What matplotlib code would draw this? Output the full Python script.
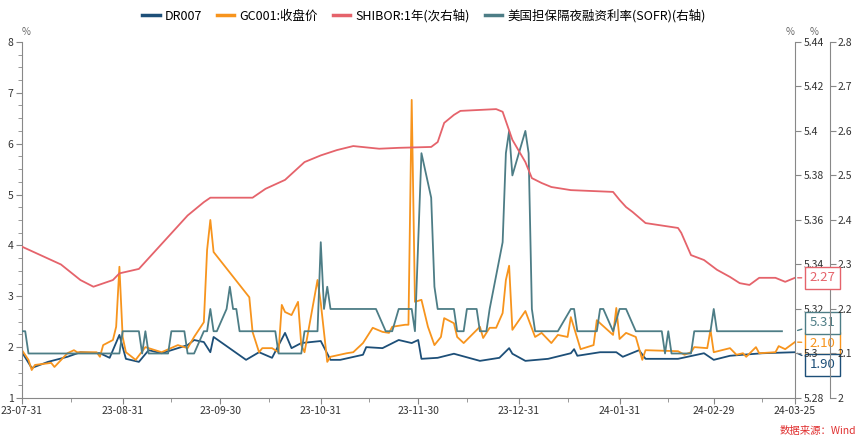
import matplotlib
matplotlib.use("Agg")
import matplotlib.pyplot as plt
import matplotlib.dates as mdates
import numpy as np
import pandas as pd

plt.rcParams['font.family'] = ['Noto Sans CJK SC', 'DejaVu Sans']

start = pd.Timestamp('2023-07-31')

dr_days = [0,3,8,14,18,24,27,30,32,36,39,43,46,51,53,56,58,59,69,73,77,81,83,86,92,95,98,105,106,111,116,120,122,123,128,133,141,147,150,151,155,162,169,170,171,178,183,185,190,192,202,210,213,218,228,238]
dr_vals = [1.90,1.59,1.71,1.81,1.90,1.88,1.79,2.24,1.77,1.71,1.94,1.88,1.94,2.04,2.14,2.10,1.90,2.20,1.75,1.90,1.79,2.28,1.98,2.08,2.12,1.75,1.75,1.85,2.00,1.98,2.14,2.08,2.14,1.77,1.79,1.87,1.73,1.79,1.98,1.87,1.73,1.77,1.88,1.96,1.83,1.90,1.90,1.81,1.94,1.77,1.77,1.88,1.75,1.83,1.88,1.90]

gc_days = [0,2,3,4,9,10,14,16,17,23,24,25,28,29,30,31,32,35,38,43,48,51,53,56,57,58,59,70,71,73,74,77,79,80,81,83,85,86,87,91,92,94,95,100,102,105,108,111,113,114,118,119,120,121,123,125,127,129,130,133,134,136,141,142,144,146,148,149,150,151,155,158,160,163,165,168,169,172,176,177,178,182,183,184,186,189,191,192,202,204,206,207,211,212,213,218,220,222,223,226,227,232,233,235,238]
gc_vals = [1.94,1.75,1.55,1.65,1.69,1.61,1.88,1.94,1.90,1.90,1.81,2.04,2.14,2.40,3.58,2.20,1.90,1.75,2.00,1.90,2.04,1.98,2.20,2.49,3.91,4.50,3.87,2.98,2.30,1.90,1.98,1.98,1.90,2.83,2.69,2.63,2.89,2.04,1.90,3.32,2.87,1.71,1.81,1.88,1.90,2.08,2.38,2.30,2.28,2.40,2.44,2.44,6.86,2.89,2.93,2.40,2.04,2.20,2.57,2.47,2.20,2.08,2.40,2.18,2.38,2.38,2.67,3.32,3.60,2.34,2.71,2.20,2.28,2.08,2.24,2.20,2.59,1.96,2.04,2.53,2.47,2.24,2.77,2.16,2.28,2.20,1.75,1.94,1.92,1.85,1.90,2.00,1.98,2.34,1.90,1.98,1.85,1.88,1.81,2.00,1.88,1.90,2.02,1.96,2.10]

sh_days = [0,6,12,18,22,28,30,36,41,46,51,56,58,60,71,75,81,87,92,97,102,110,116,126,128,130,133,135,146,148,151,155,157,160,163,169,182,184,186,188,192,202,203,206,210,214,218,221,224,227,232,235,238]
sh_vals = [2.34,2.32,2.30,2.265,2.25,2.265,2.28,2.29,2.33,2.37,2.41,2.44,2.45,2.45,2.45,2.47,2.49,2.53,2.545,2.557,2.566,2.56,2.562,2.564,2.575,2.618,2.636,2.645,2.649,2.643,2.58,2.53,2.494,2.483,2.474,2.467,2.463,2.445,2.429,2.418,2.393,2.382,2.371,2.321,2.31,2.288,2.272,2.258,2.254,2.27,2.27,2.261,2.27]

sofr_days = [0,1,2,30,31,36,37,38,39,45,46,50,51,53,56,57,58,59,60,63,64,65,66,67,78,79,86,87,91,92,93,94,95,109,112,114,116,120,121,123,126,127,128,133,134,136,137,140,141,143,144,148,149,150,151,155,156,157,158,165,169,170,171,177,178,179,182,184,186,189,197,198,199,200,206,207,212,213,214,234]
sofr_vals = [5.31,5.31,5.30,5.30,5.31,5.31,5.30,5.31,5.30,5.30,5.31,5.31,5.30,5.30,5.31,5.31,5.32,5.31,5.31,5.32,5.33,5.32,5.32,5.31,5.31,5.30,5.30,5.31,5.31,5.35,5.32,5.33,5.32,5.32,5.31,5.31,5.32,5.32,5.31,5.39,5.37,5.33,5.32,5.32,5.31,5.31,5.32,5.32,5.31,5.31,5.32,5.35,5.39,5.40,5.38,5.40,5.39,5.32,5.31,5.31,5.32,5.32,5.31,5.31,5.32,5.32,5.31,5.32,5.32,5.31,5.31,5.30,5.31,5.30,5.30,5.31,5.31,5.32,5.31,5.31]

names = ['DR007', 'GC001:收盘价', 'SHIBOR:1年(次右轴)', '美国担保隔夜融资利率(SOFR)(右轴)']
c_dr, c_gc, c_sh, c_so = '#1d4f78', '#f7941d', '#e5636b', '#4d7d86'
xtick_labels = ['2023-07-31','2023-08-31','2023-09-30','2023-10-31','2023-11-30','2023-12-31','2024-01-31','2024-02-29','2024-03-25']

def d(days):
    return start + pd.to_timedelta(days, unit='D')

fig = plt.figure(figsize=(8.65, 4.41), dpi=100)
ax = fig.add_axes([0.0254, 0.0975, 0.8936, 0.8075])
ax2 = ax.twinx()   # SOFR
ax3 = ax.twinx()   # SHIBOR
ax3.spines['right'].set_position(('outward', 25))

l1, = ax.plot(d(dr_days), dr_vals, color=c_dr, lw=1.3)
l2, = ax.plot(d(gc_days), gc_vals, color=c_gc, lw=1.3)
l3, = ax3.plot(d(sh_days), sh_vals, color=c_sh, lw=1.3)
l4, = ax2.plot(d(sofr_days), sofr_vals, color=c_so, lw=1.3)

ax.set_ylim(1, 8); ax2.set_ylim(5.28, 5.44); ax3.set_ylim(2.0, 2.8)
ax.set_xlim(d(0), d(238))
ax.set_yticks(range(1, 9)); ax.set_yticks(np.arange(1, 8.01, 0.25), minor=True)
ax2.set_yticks(np.arange(5.28, 5.441, 0.02)); ax2.set_yticklabels(['5.28','5.3','5.32','5.34','5.36','5.38','5.4','5.42','5.44'])
ax3.set_yticks(np.arange(2.0, 2.81, 0.1)); ax3.set_yticklabels(['2','2.1','2.2','2.3','2.4','2.5','2.6','2.7','2.8'])
xt = pd.to_datetime(xtick_labels)
ax.set_xticks(xt)
ax.set_xticklabels([t.strftime('%y-%m-%d') for t in xt])
ax.set_xticks(pd.to_datetime(['2023-08-15','2023-09-15','2023-10-15','2023-11-15','2023-12-15','2024-01-15','2024-02-15','2024-03-15']), minor=True)

gray = '#888888'
for a in (ax, ax2, ax3):
    a.spines['top'].set_visible(False)
    a.tick_params(labelsize=7.5, colors='#333333', length=4, color=gray, pad=2)
    a.tick_params(which='minor', length=3, color=gray)
for s in ('left', 'bottom'):
    ax.spines[s].set_color(gray)
ax.spines['right'].set_visible(False)
ax2.spines['right'].set_color(gray); ax3.spines['right'].set_color(gray)
for a in (ax2, ax3):
    a.spines['left'].set_visible(False); a.spines['bottom'].set_visible(False)

ax.text(-0.0, 1.02, '%', transform=ax.transAxes, fontsize=7, color='#666666', ha='left')
ax2.text(1.0, 1.02, '%', transform=ax2.transAxes, fontsize=7, color='#666666', ha='right')
ax3.text(1.03, 1.02, '%', transform=ax3.transAxes, fontsize=7, color='#666666', ha='right')

fig.legend([l1, l2, l3, l4], names, loc='upper center', bbox_to_anchor=(0.49, 1.005), ncol=4,
           frameon=False, fontsize=9, handlelength=1.4, columnspacing=1.2, handletextpad=0.4)
for h in fig.legends[0].get_lines():
    h.set_linewidth(2.5)

def tag(axis, y, ylab, text, col):
    axis.annotate(text, xy=(d(238), y), xytext=(d(242.5), ylab), color=col, fontsize=9.5,
                  ha='left', va='center', annotation_clip=False,
                  bbox=dict(boxstyle='square,pad=0.35', fc='white', ec=col, lw=1),
                  arrowprops=dict(arrowstyle='-', color=col, lw=1))
tag(ax3, sh_vals[-1], 2.27, '2.27', c_sh)
tag(ax2, 5.31, 5.3137, '5.31', c_so)
tag(ax, gc_vals[-1], 2.08, '2.10', c_gc)
tag(ax, dr_vals[-1], 1.65, '1.90', c_dr)

fig.text(0.99, 0.012, '数据来源：Wind', color='#e03030', fontsize=7.5, ha='right', va='bottom')
fig.savefig('out.png', dpi=100)
